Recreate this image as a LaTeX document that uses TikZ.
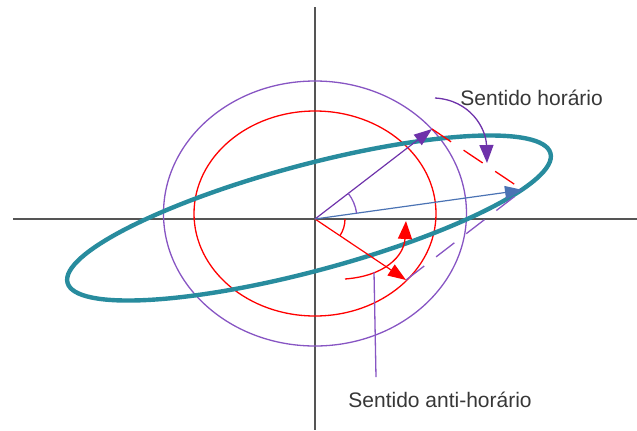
\documentclass[tikz,border=0pt]{standalone}
\usepackage{fontspec}
\setmainfont{Liberation Sans}
\usetikzlibrary{arrows.meta,calc,angles}
\definecolor{axisgray}{RGB}{85,85,85}
\definecolor{orbitteal}{RGB}{40,140,158}
\definecolor{ringpurple}{RGB}{135,85,195}
\definecolor{vecpurple}{RGB}{110,50,170}
\definecolor{vecblue}{RGB}{75,115,180}
\definecolor{labelgray}{RGB}{55,55,55}

\begin{document}
\begin{tikzpicture}[
    x=0.5pt, y=-0.5pt,
    axis/.style={draw=axisgray, line width=1pt},
    orbit/.style={draw=orbitteal, line width=2.2pt},
    ring/.style={line width=0.65pt},
    vec/.style={line width=0.6pt, -{Triangle[length=9pt,width=6.5pt]}},
    sumline/.style={line width=0.65pt, dash pattern=on 11.5pt off 7.5pt},
    turn/.style={line width=0.65pt, -{Triangle[length=9pt,width=7pt]}},
    lbl/.style={font=\fontsize{10.5}{12}\selectfont, text=labelgray, inner sep=0pt}
]
\useasboundingbox (0,0) rectangle (637,430);
\coordinate (O) at (315,219);
\coordinate (xl) at (13,219);
\coordinate (xr) at (637,219);
\coordinate (yt) at (315,7);
\coordinate (yb) at (315,430);
\coordinate (C) at (315,213.5);
\coordinate (E) at (309,218);
\coordinate (P) at (432,129);
\coordinate (R) at (406,280);
\coordinate (B) at ($(R)+(P)-(O)$);

\draw[axis] (xl) -- (xr);
\draw[axis] (yt) -- (yb);
\draw[ring, draw=ringpurple] (C) ellipse [x radius=75.75pt, y radius=66.25pt];
\draw[ring, draw=red] (C) ellipse [x radius=60.5pt, y radius=51.25pt];
\draw[orbit, rotate around={15:(E)}] (E) ellipse [x radius=125pt, y radius=26.5pt];

\draw[vec, vecpurple] (O) -- (P);
\draw[vec, red] (O) -- (R);
\draw[vec, vecblue] (O) -- (B);
\draw[sumline, red] (P) -- (B);
\draw[sumline, ringpurple] (R) -- (B);
\pic[draw=ringpurple, line width=0.65pt, angle radius=21pt] {angle=B--O--P};
\pic[draw=red, line width=0.65pt, angle radius=15pt] {angle=R--O--xr};

\node[lbl, anchor=base west] (cw) at (460,105) {Sentido horário};
\node[lbl, anchor=base west] (ccw) at (348,407) {Sentido anti-horário};
\coordinate (cwS) at (435,98);
\coordinate (cwE) at (487,163);
\coordinate (ccwS) at (345,279);
\coordinate (ccwE) at (406,221);
\coordinate (ptr) at (374,272);
\coordinate (ptrE) at (376,377);
\draw[turn, vecpurple] (cwS) .. controls (470,100) and (486,128) .. (cwE);
\draw[turn, red] (ccwS) .. controls (385,276) and (404,256) .. (ccwE);
\draw[ring, ringpurple] (ptr) -- (ptrE);
\end{tikzpicture}
\end{document}
